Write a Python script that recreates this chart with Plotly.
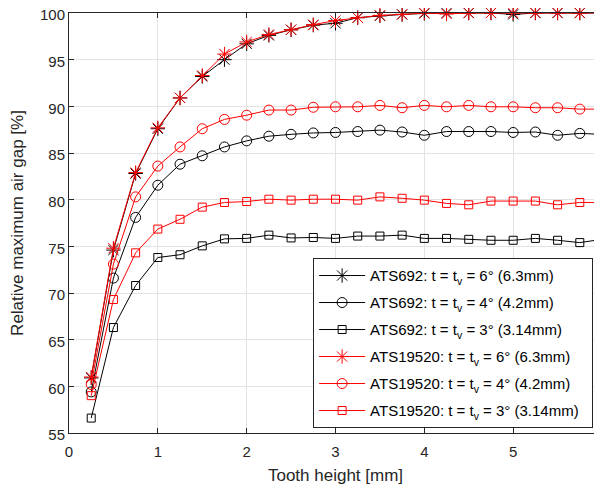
import plotly.graph_objects as go

tooth_height = [0.25, 0.5, 0.75, 1.0, 1.25, 1.5, 1.75, 2.0, 2.25, 2.5, 2.75, 3.0,
                3.25, 3.5, 3.75, 4.0, 4.25, 4.5, 4.75, 5.0, 5.25, 5.5, 5.75, 6.0]

ats692_6 = [60.9, 74.6, 82.8, 87.6, 90.9, 93.2, 95.0, 96.7, 97.6, 98.2, 98.7, 98.9,
            99.5, 99.7, 99.85, 99.95, 100.0, 100.0, 100.0, 99.85, 100.0, 100.0, 100.0, 100.0]
ats692_4 = [59.4, 71.6, 78.1, 81.55, 83.8, 84.7, 85.65, 86.3, 86.8, 87.0, 87.15, 87.2,
            87.3, 87.45, 87.25, 86.9, 87.3, 87.3, 87.3, 87.2, 87.25, 86.9, 87.1, 87.0]
ats692_3 = [56.6, 66.3, 70.8, 73.8, 74.1, 75.05, 75.8, 75.85, 76.2, 75.9, 75.95, 75.85,
            76.1, 76.1, 76.2, 75.85, 75.85, 75.75, 75.65, 75.65, 75.85, 75.65, 75.4, 75.75]
ats19520_6 = [61.0, 74.8, 82.9, 87.7, 90.9, 93.3, 95.6, 96.9, 97.7, 98.2, 98.75, 99.2,
              99.5, 99.75, 99.85, 100.0, 99.9, 100.0, 100.0, 100.0, 100.0, 100.0, 100.0, 100.0]
ats19520_4 = [60.2, 73.1, 80.3, 83.6, 85.65, 87.6, 88.6, 89.05, 89.6, 89.6, 89.9, 89.95,
              89.95, 90.1, 89.85, 90.1, 89.95, 90.1, 89.95, 89.95, 89.85, 89.85, 89.7, 89.7]
ats19520_3 = [59.0, 69.3, 74.3, 76.85, 77.9, 79.2, 79.7, 79.8, 80.05, 79.95, 80.05, 80.05,
              79.95, 80.3, 80.15, 79.95, 79.6, 79.45, 79.85, 79.85, 79.85, 79.45, 79.7, 79.7]

series_names = [
    "ATS692: t = t<sub>v</sub> = 6° (6.3mm)",
    "ATS692: t = t<sub>v</sub> = 4° (4.2mm)",
    "ATS692: t = t<sub>v</sub> = 3° (3.14mm)",
    "ATS19520: t = t<sub>v</sub> = 6° (6.3mm)",
    "ATS19520: t = t<sub>v</sub> = 4° (4.2mm)",
    "ATS19520: t = t<sub>v</sub> = 3° (3.14mm)",
]
series_values = [ats692_6, ats692_4, ats692_3, ats19520_6, ats19520_4, ats19520_3]
series_colors = ["#000000", "#000000", "#000000", "#ff0000", "#ff0000", "#ff0000"]
series_symbols = ["asterisk-open", "circle-open", "square-open",
                  "asterisk-open", "circle-open", "square-open"]
series_sizes = [12, 10, 8, 12, 10, 8]

x_ticks = [0, 1, 2, 3, 4, 5, 6]
y_ticks = [55, 60, 65, 70, 75, 80, 85, 90, 95, 100]

FONT = "Liberation Sans, Arial, Helvetica, sans-serif"
AXC = "#262626"
PAD = "\u00a0\u00a0"

fig = go.Figure()
for i, (name, vals) in enumerate(zip(series_names, series_values)):
    fig.add_trace(go.Scatter(
        x=tooth_height, y=vals, name=name + PAD, mode="lines+markers",
        line=dict(color=series_colors[i], width=1),
        marker=dict(symbol=series_symbols[i], size=series_sizes[i],
                    color=series_colors[i], line=dict(color=series_colors[i], width=1)),
        cliponaxis=False, legendgroup=f"g{i}",
    ))

axis_common = dict(
    showline=True, linecolor=AXC, linewidth=1, mirror="ticks",
    ticks="inside", ticklen=5, tickcolor=AXC, tickwidth=1,
    showgrid=True, gridcolor="#e3e3e3", gridwidth=1, zeroline=False,
    tickfont=dict(family=FONT, size=15, color=AXC),
    automargin=False, ticklabeloverflow="allow",
)

# page body has an 8px default margin, so the figure is sized to the visible area
fig.update_layout(
    width=594, height=477,
    margin=dict(l=61, r=0, t=5, b=52),
    paper_bgcolor="white", plot_bgcolor="white",
    font=dict(family=FONT, color=AXC),
    xaxis=dict(range=[0, 6], tickvals=x_ticks, ticklabelstandoff=5,
               title=dict(text="Tooth height [mm]", font=dict(family=FONT, size=17, color=AXC), standoff=17),
               **axis_common),
    yaxis=dict(range=[55, 100], tickvals=y_ticks, ticklabelshift=2,
               title=dict(text="Relative maximum air gap [%]", font=dict(family=FONT, size=17, color=AXC), standoff=19),
               **axis_common),
    showlegend=True,
    legend=dict(x=0.458, y=0.416, xanchor="left", yanchor="top",
                bgcolor="white", bordercolor=AXC, borderwidth=1,
                font=dict(family=FONT, size=15, color="#000000"),
                itemwidth=46, tracegroupgap=4.5),
)

fig.write_html("out.html")
